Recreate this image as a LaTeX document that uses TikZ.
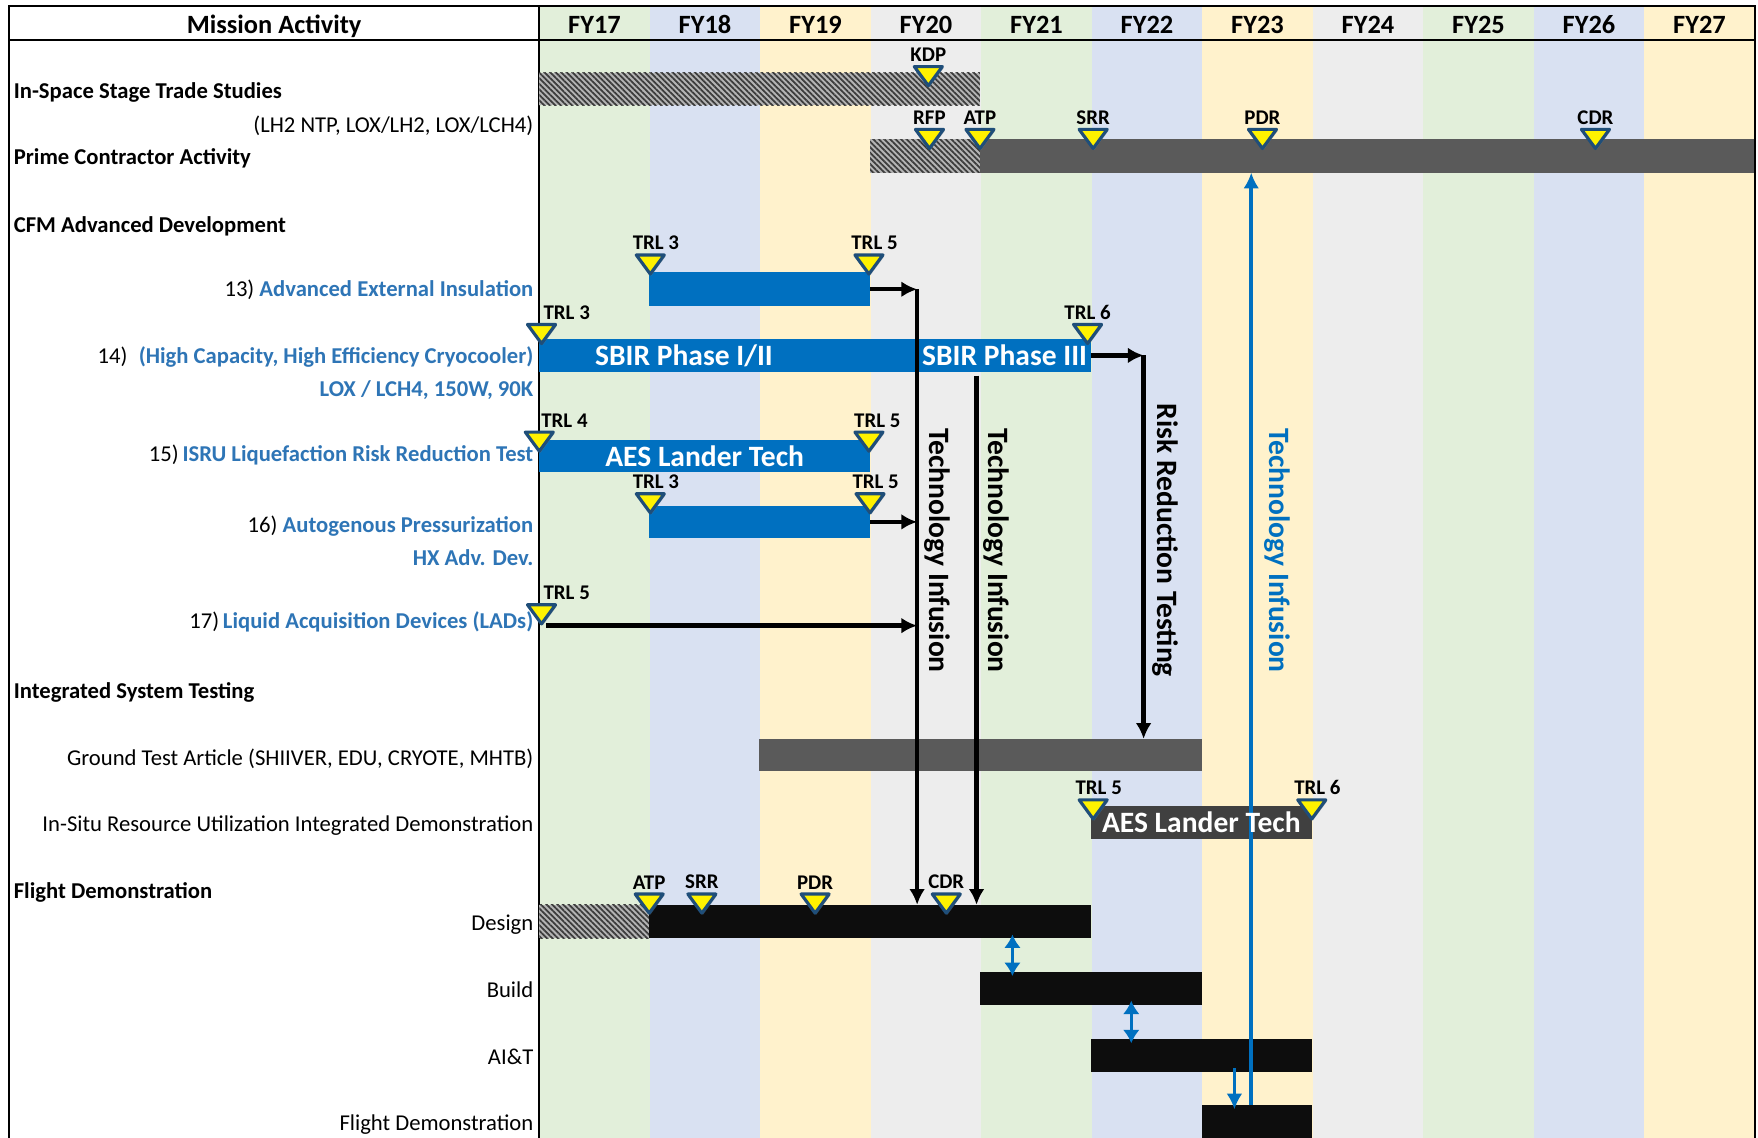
\documentclass[tikz,border=0pt]{standalone}
\usepackage{fontspec}
\setmainfont{Carlito}
\usetikzlibrary{positioning, shapes.geometric, fit, arrows.meta, patterns.meta, shadows}

\definecolor{fyGreen}{HTML}{E2EFDA}
\definecolor{fyBlue}{HTML}{D9E1F2}
\definecolor{fyYellow}{HTML}{FFF2CC}
\definecolor{fyGray}{HTML}{EDEDED}
\definecolor{barBlue}{HTML}{0070C0}
\definecolor{labelBlue}{HTML}{2E75B6}
\definecolor{stoneEdge}{HTML}{1F4E79}
\definecolor{barGray}{HTML}{5A5A5A}
\definecolor{barDark}{HTML}{404040}
\definecolor{barBlack}{HTML}{0D0D0D}
\definecolor{hatchLight}{HTML}{B4B4B4}
\definecolor{hatchDark}{HTML}{3C3C3C}

\begin{document}
\begin{tikzpicture}[
    x = 0.02cm, y = -0.02cm,
    tableLine/.append style = {line width = 1.1pt},
    yearHead/.append style = {anchor = base, inner sep = 0pt, font = \fontsize{13.4}{15}\selectfont\bfseries},
    rowHead/.append style = {anchor = base west, inner sep = 0pt, font = \fontsize{11.5}{13}\selectfont\bfseries},
    rowLabel/.append style = {anchor = base east, inner sep = 0pt, font = \fontsize{11.5}{13}\selectfont},
    techName/.append style = {text = labelBlue, font = \fontsize{11.5}{13}\selectfont\bfseries},
    ganttBar/.append style = {inner sep = 0pt, outer sep = 0pt, draw = none},
    blueBar/.append style = {ganttBar, fill = barBlue},
    grayBar/.append style = {ganttBar, fill = barGray},
    darkBar/.append style = {ganttBar, fill = barDark},
    blackBar/.append style = {ganttBar, fill = barBlack},
    hatchBar/.append style = {ganttBar, fill = hatchLight,
        postaction = {pattern = {Lines[angle = -45, distance = 2pt, line width = 0.9pt]}, pattern color = hatchDark}},
    barText/.append style = {text = white, font = \fontsize{15}{18}\selectfont\bfseries},
    vertText/.append style = {rotate = -90, font = \fontsize{15}{18}\selectfont\bfseries},
    mStone/.append style = {isosceles triangle, isosceles triangle stretches, shape border rotate = 270,
        minimum width = 0.5cm, minimum height = 0.34cm, inner sep = 0pt, anchor = north,
        fill = yellow, draw = stoneEdge, line width = 1.6pt, line join = round,
        drop shadow = {shadow xshift = 0.6pt, shadow yshift = -0.8pt, opacity = 0.4}},
    mLabel/.append style = {inner sep = 0pt, label distance = 1.5pt, font = \fontsize{10.6}{12}\selectfont\bfseries},
    myArrow/.append style = {->, >={Latex[length = 2.8mm, width = 2.8mm]}, line width = 2.2pt},
    blueArrow/.append style = {myArrow, draw = barBlue},
    dblArrow/.append style = {<->, >={Latex[length = 2.4mm, width = 3mm]}, line width = 1.8pt, draw = barBlue,
        shorten < = -2pt, shorten > = -2pt}
    ]
      \useasboundingbox (0,0) rectangle (1568,1015);
      \fill[white] (0,0) rectangle (1568,1015);

      % year columns
      \foreach \yr/\col [count = \i from 0] in {17/fyGreen, 18/fyBlue, 19/fyYellow, 20/fyGray, 21/fyGreen, 22/fyBlue,
                                                 23/fyYellow, 24/fyGray, 25/fyGreen, 26/fyBlue, 27/fyYellow} {
        \fill[\col] ({481 + \i*98.55}, 5) rectangle ++(98.55, 1010);
        \node[yearHead] (fy\yr) at ({481 + (\i + 0.5)*98.55}, 30) {FY\yr};
      }
      \node[yearHead] (missionHead) at (244.5, 30) {Mission Activity};

      \draw[tableLine] (8,1015) -- (8,5) -- (1565,5) -- (1565,1015);
      \draw[tableLine] (8,36) -- (1565,36);
      \draw[tableLine] (481,5) -- (481,1015);

      %% Row labels
      \node[rowHead] (tradeHead) at (12, 88) {In-Space Stage Trade Studies};
      \node[rowLabel] (tradeSub) at (476, 118) {(LH2 NTP, LOX/LH2, LOX/LCH4)};
      \node[rowHead] (primeHead) at (12, 147) {Prime Contractor Activity};
      \node[rowHead] (cfmHead) at (12, 207) {CFM Advanced Development};
      \node[rowLabel] (aeiLabel) at (476, 264) {13) \textcolor{labelBlue}{\bfseries Advanced External Insulation}};
      \node[rowLabel] (ccLabel) at (476, 324) {14)\enspace\textcolor{labelBlue}{\bfseries (High Capacity, High Efficiency Cryocooler)}};
      \node[rowLabel, techName] (ccSub) at (476, 354) {LOX / LCH4, 150W, 90K};
      \node[rowLabel] (isruLabel) at (476, 412) {15)\,\textcolor{labelBlue}{\bfseries ISRU Liquefaction Risk Reduction Test}};
      \node[rowLabel] (apLabel) at (476, 475) {16) \textcolor{labelBlue}{\bfseries Autogenous Pressurization}};
      \node[rowLabel, techName] (apSub) at (476, 504) {HX Adv. Dev.};
      \node[rowLabel] (ladLabel) at (476, 561) {17)\,\textcolor{labelBlue}{\bfseries Liquid Acquisition Devices (LADs)}};
      \node[rowHead] (istHead) at (12, 623) {Integrated System Testing};
      \node[rowLabel] (gtaLabel) at (476, 683) {Ground Test Article (SHIIVER, EDU, CRYOTE, MHTB)};
      \node[rowLabel] (demoLabel) at (476, 742) {In-Situ Resource Utilization Integrated Demonstration};
      \node[rowHead] (fdHead) at (12, 801) {Flight Demonstration};
      \node[rowLabel] (designLabel) at (476, 830) {Design};
      \node[rowLabel] (buildLabel) at (476, 890) {Build};
      \node[rowLabel] (aitLabel) at (476, 949) {AI\&T};
      \node[rowLabel] (fdLabel) at (476, 1008) {Flight Demonstration};

      %% Bars
      \node[hatchBar, fit = {(481,65) (874,94)}] (tradeBar) {};
      \node[hatchBar, fit = {(776,124) (874,154)}] (rfpBar) {};
      \node[grayBar, fit = {(874,124) (1564,154)}] (primeBar) {};
      \node[blueBar, fit = {(579,243) (776,273)}] (aeiBar) {};
      \node[blueBar, fit = {(481,302) (973,332)}] (ccBar) {};
      \node[blueBar, fit = {(481,392) (776,421)}] (isruBar) {};
      \node[blueBar, fit = {(579,451) (776,480)}] (apBar) {};
      \node[grayBar, fit = {(677,659) (1072,688)}] (gtaBar) {};
      \node[darkBar, fit = {(973,719) (1170,748)}] (demoBar) {};
      \node[hatchBar, fit = {(481,807) (579,837)}] (preDesignBar) {};
      \node[blackBar, fit = {(579,807) (973,837)}] (designBar) {};
      \node[blackBar, fit = {(874,867) (1072,896)}] (buildBar) {};
      \node[blackBar, fit = {(973,927) (1170,956)}] (aitBar) {};
      \node[blackBar, fit = {(1072,986) (1170,1015)}] (fdBar) {};

      \node[barText] (sbirOne) at (610, 317) {SBIR Phase I/II};
      \node[barText] (sbirThree) at (896, 317) {SBIR Phase III};
      \node[barText] (isruText) at (isruBar.center) {AES Lander Tech};

      %% Arrows
      \coordinate (infOne) at (818, 258);
      \coordinate (infTwo) at (871, 335);
      \coordinate (riskX) at (1020, 0);
      \coordinate (ladStart) at (487, 558);
      \coordinate (infBlue) at (1116, 0);
      \coordinate (dblOne) at (903, 0);
      \coordinate (dblTwo) at (1009, 0);
      \coordinate (downX) at (1101, 0);

      \draw[myArrow] (aeiBar.east) -- (aeiBar.east -| infOne);
      \draw[myArrow] (apBar.east) -- (apBar.east -| infOne);
      \draw[myArrow] (ladStart) -- (ladStart -| infOne);
      \draw[myArrow] (infOne) -- (infOne |- designBar.north);
      \draw[myArrow] (infTwo) -- (infTwo |- designBar.north);
      \draw[myArrow] (ccBar.east) -- (ccBar.east -| riskX);
      \draw[myArrow] (ccBar.east -| riskX) -- (riskX |- gtaBar.north);
      \draw[blueArrow] (fdBar.north -| infBlue) -- (primeBar.south -| infBlue);
      \draw[dblArrow] (designBar.south -| dblOne) -- (buildBar.north -| dblOne);
      \draw[dblArrow] (buildBar.south -| dblTwo) -- (aitBar.north -| dblTwo);
      \draw[blueArrow, line width = 1.9pt, shorten < = -2pt, shorten > = -2pt] (aitBar.south -| downX) -- (fdBar.north -| downX);

      \node[barText] (demoText) at (demoBar.center) {AES Lander Tech};

      \node[vertText] (infOneText) at (836, 491) {Technology Infusion};
      \node[vertText] (infTwoText) at (889, 491) {Technology Infusion};
      \node[vertText] (riskText) at (1039, 482) {Risk Reduction Testing};
      \node[vertText, text = barBlue] (infBlueText) at (1139, 491) {Technology Infusion};

      %% Milestones
      \node[mStone, label = {[mLabel]above:KDP}] (kdp) at (828, 58) {};
      \node[mStone, label = {[mLabel]above:RFP}] (rfp) at (829, 114) {};
      \node[mStone, label = {[mLabel]above:ATP}] (atpPrime) at (874, 114) {};
      \node[mStone, label = {[mLabel]above:SRR}] (srrPrime) at (975, 114) {};
      \node[mStone, label = {[mLabel]above:PDR}] (pdrPrime) at (1126, 114) {};
      \node[mStone, label = {[mLabel]above:CDR}] (cdrPrime) at (1423, 114) {};
      \node[mStone, label = {[mLabel, xshift = 0.1cm]above:TRL 3}] (aeiTrlA) at (580, 226) {};
      \node[mStone, label = {[mLabel, xshift = 0.1cm]above:TRL 5}] (aeiTrlB) at (775, 226) {};
      \node[mStone, label = {[mLabel, xshift = 0.45cm]above:TRL 3}] (ccTrlA) at (483, 288) {};
      \node[mStone, label = {[mLabel]above:TRL 6}] (ccTrlB) at (970, 288) {};
      \node[mStone, label = {[mLabel, xshift = 0.45cm]above:TRL 4}] (isruTrlA) at (481, 384) {};
      \node[mStone, label = {[mLabel, xshift = 0.15cm]above:TRL 5}] (isruTrlB) at (775, 384) {};
      \node[mStone, label = {[mLabel, xshift = 0.1cm]above:TRL 3}] (apTrlA) at (580, 439) {};
      \node[mStone, label = {[mLabel, xshift = 0.1cm]above:TRL 5}] (apTrlB) at (776, 439) {};
      \node[mStone, label = {[mLabel, xshift = 0.45cm]above:TRL 5}] (ladTrl) at (483, 538) {};
      \node[mStone, label = {[mLabel, xshift = 0.1cm]above:TRL 5}] (demoTrlA) at (975, 712) {};
      \node[mStone, label = {[mLabel, xshift = 0.1cm]above:TRL 6}] (demoTrlB) at (1170, 712) {};
      \node[mStone, label = {[mLabel]above:ATP}] (atpDesign) at (579, 796) {};
      \node[mStone, label = {[mLabel]above:SRR}] (srrDesign) at (626, 796) {};
      \node[mStone, label = {[mLabel]above:PDR}] (pdrDesign) at (727, 796) {};
      \node[mStone, label = {[mLabel]above:CDR}] (cdrDesign) at (844, 796) {};
    \end{tikzpicture}
\end{document}
